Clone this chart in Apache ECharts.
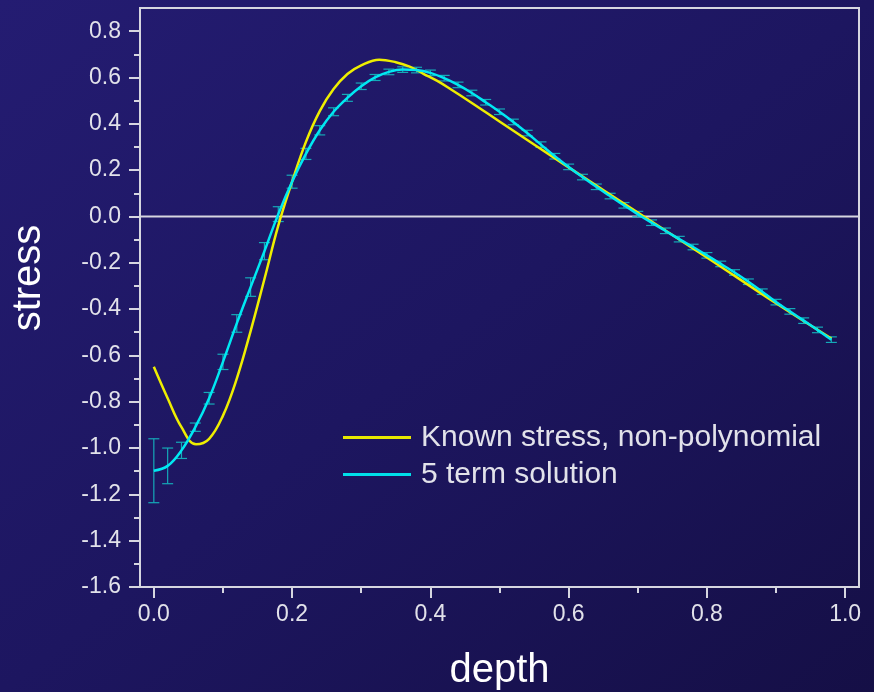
<!DOCTYPE html>
<html>
<head>
<meta charset="utf-8">
<script src="https://cdn.jsdelivr.net/npm/echarts@6/dist/echarts.min.js"></script>
<style>
html,body{margin:0;padding:0;width:874px;height:692px;overflow:hidden;
background:linear-gradient(to bottom right,#241c72 0%,#1d1660 50%,#150f46 100%);}
#chart{width:874px;height:692px;}
</style>
</head>
<body>
<div id="chart"></div>
<script>
// ---- data ----
const knownName = 'Known stress, non-polynomial';
const solName = '5 term solution';

const knownX = [0, 0.02, 0.04, 0.061, 0.08, 0.10, 0.12, 0.14, 0.16, 0.18, 0.20, 0.22, 0.24, 0.26, 0.28, 0.30, 0.326, 0.35, 0.37, 0.39, 0.41, 0.43, 0.46, 0.50, 0.60, 0.70, 0.80, 0.90, 0.98];
const knownY = [-0.649, -0.785, -0.91, -0.984, -0.96, -0.86, -0.70, -0.495, -0.27, -0.04, 0.15, 0.322, 0.455, 0.55, 0.615, 0.652, 0.677, 0.666, 0.647, 0.616, 0.585, 0.548, 0.49, 0.41, 0.212, 0.017, -0.177, -0.375, -0.527];

const solX = [0, 0.02, 0.04, 0.06, 0.08, 0.10, 0.12, 0.14, 0.16, 0.18, 0.20, 0.22, 0.24, 0.26, 0.28, 0.30, 0.32, 0.34, 0.36, 0.38, 0.40, 0.42, 0.44, 0.46, 0.48, 0.50, 0.52, 0.54, 0.56, 0.58, 0.60, 0.62, 0.64, 0.66, 0.68, 0.70, 0.72, 0.74, 0.76, 0.78, 0.80, 0.82, 0.84, 0.86, 0.88, 0.90, 0.92, 0.94, 0.96, 0.98];
const solY = [-1.098, -1.077, -1.01, -0.91, -0.785, -0.628, -0.462, -0.305, -0.15, 0.01, 0.15, 0.27, 0.372, 0.452, 0.512, 0.562, 0.6, 0.624, 0.634, 0.632, 0.62, 0.597, 0.568, 0.533, 0.493, 0.452, 0.408, 0.36, 0.31, 0.26, 0.214, 0.17, 0.128, 0.088, 0.048, 0.01, -0.027, -0.062, -0.098, -0.132, -0.168, -0.205, -0.242, -0.282, -0.325, -0.37, -0.41, -0.45, -0.49, -0.532];
const solErr = [0.138, 0.077, 0.035, 0.018, 0.025, 0.033, 0.038, 0.04, 0.037, 0.032, 0.028, 0.024, 0.02, 0.017, 0.015, 0.014, 0.013, 0.012, 0.012, 0.012, 0.012, 0.012, 0.012, 0.012, 0.012, 0.012, 0.012, 0.012, 0.012, 0.012, 0.012, 0.012, 0.012, 0.012, 0.012, 0.012, 0.012, 0.012, 0.012, 0.012, 0.012, 0.012, 0.012, 0.012, 0.012, 0.012, 0.012, 0.012, 0.012, 0.012];

const xMajorTicks = [0, 0.2, 0.4, 0.6, 0.8, 1.0];
const xMinorTicks = [0.1, 0.3, 0.5, 0.7, 0.9];
const yMajorTicks = [-1.6, -1.4, -1.2, -1.0, -0.8, -0.6, -0.4, -0.2, 0, 0.2, 0.4, 0.6, 0.8];
const yMinorTicks = [-1.5, -1.3, -1.1, -0.9, -0.7, -0.5, -0.3, -0.1, 0.1, 0.3, 0.5, 0.7];

const xTitle = 'depth';
const yTitle = 'stress';

// ---- build chart ----
const axisCol = '#d6d6e0';
const labelCol = '#e2e2ea';
const font = 'Liberation Sans, Arial, sans-serif';

const knownData = knownX.map((x, i) => [x, knownY[i]]);
const solData = solX.map((x, i) => [x, solY[i]]);
const errData = solX.map((x, i) => [x, solY[i] + solErr[i], solY[i] - solErr[i]]);

const chart = echarts.init(document.getElementById('chart'), null, {renderer: 'canvas'});

const fmt = v => (Math.round(v * 10) / 10).toFixed(1);

chart.setOption({
  backgroundColor: 'transparent',
  animation: false,
  grid: {
    left: 140, right: 15, top: 8, bottom: 105,
    show: true, borderColor: axisCol, borderWidth: 2,
    backgroundColor: 'transparent',
    containLabel: false, outerBoundsMode: 'none'
  },
  graphic: [{
    type: 'text', x: 29, y: 278, rotation: Math.PI / 2, silent: true,
    style: {text: yTitle, fill: '#ffffff', font: '40px ' + font, textAlign: 'center', textVerticalAlign: 'middle'}
  }],
  legend: {
    data: [knownName, solName],
    orient: 'vertical',
    left: 338, top: 414,
    itemWidth: 68, itemHeight: 3, itemGap: 0,
    icon: 'rect',
    textStyle: {color: labelCol, fontSize: 30, fontFamily: font, lineHeight: 37, padding: [0, 0, 0, 5]}
  },
  xAxis: [{
    type: 'value', min: -0.02, max: 1.02,
    name: xTitle, nameLocation: 'middle', nameGap: 64,
    nameTextStyle: {color: '#ffffff', fontSize: 40, fontFamily: font},
    axisLine: {show: true, onZero: false, lineStyle: {color: axisCol, width: 2}},
    axisTick: {show: true, inside: false, length: 11, customValues: xMajorTicks, lineStyle: {color: axisCol, width: 2}},
    axisLabel: {show: true, customValues: xMajorTicks, margin: 16, color: labelCol, fontSize: 23, fontFamily: font, formatter: fmt},
    splitLine: {show: false}
  }, {
    type: 'value', min: -0.02, max: 1.02, position: 'bottom',
    axisLine: {show: false, onZero: false},
    axisTick: {show: true, inside: false, length: 6, customValues: xMinorTicks, lineStyle: {color: axisCol, width: 2}},
    axisLabel: {show: false},
    splitLine: {show: false}
  }],
  yAxis: [{
    type: 'value', min: -1.6, max: 0.9,
    axisLine: {show: true, onZero: false, lineStyle: {color: axisCol, width: 2}},
    axisTick: {show: true, inside: false, length: 11, customValues: yMajorTicks, lineStyle: {color: axisCol, width: 2}},
    axisLabel: {show: true, customValues: yMajorTicks, margin: 19, color: labelCol, fontSize: 23, fontFamily: font, formatter: fmt},
    splitLine: {show: false}
  }, {
    type: 'value', min: -1.6, max: 0.9, position: 'left',
    axisLine: {show: false, onZero: false},
    axisTick: {show: true, inside: false, length: 6, customValues: yMinorTicks, lineStyle: {color: axisCol, width: 2}},
    axisLabel: {show: false},
    splitLine: {show: false}
  }],
  series: [
    {
      name: 'zero', type: 'line', silent: true, symbol: 'none', z: 1,
      data: [[-0.02, 0], [1.02, 0]],
      lineStyle: {color: axisCol, width: 2}
    },
    {
      name: 'err', type: 'custom', silent: true, z: 2,
      data: errData,
      renderItem: function (params, api) {
        const x = api.value(0);
        const top = api.coord([x, api.value(1)]);
        const bot = api.coord([x, api.value(2)]);
        const hw = 5.5;
        const st = {stroke: '#15a9b8', lineWidth: 1.2};
        return {
          type: 'group',
          children: [
            {type: 'line', shape: {x1: top[0], y1: top[1], x2: bot[0], y2: bot[1]}, style: st},
            {type: 'line', shape: {x1: top[0] - hw, y1: top[1], x2: top[0] + hw, y2: top[1]}, style: st},
            {type: 'line', shape: {x1: bot[0] - hw, y1: bot[1], x2: bot[0] + hw, y2: bot[1]}, style: st}
          ]
        };
      }
    },
    {
      name: knownName, type: 'line', smooth: 0.4, symbol: 'none', z: 3,
      data: knownData,
      itemStyle: {color: '#e8e800'},
      lineStyle: {color: '#eeee00', width: 2.5}
    },
    {
      name: solName, type: 'line', smooth: 0.4, symbol: 'none', z: 4,
      data: solData,
      itemStyle: {color: '#00e0ea'},
      lineStyle: {color: '#00e8f2', width: 2.5}
    }
  ]
});
</script>
</body>
</html>
